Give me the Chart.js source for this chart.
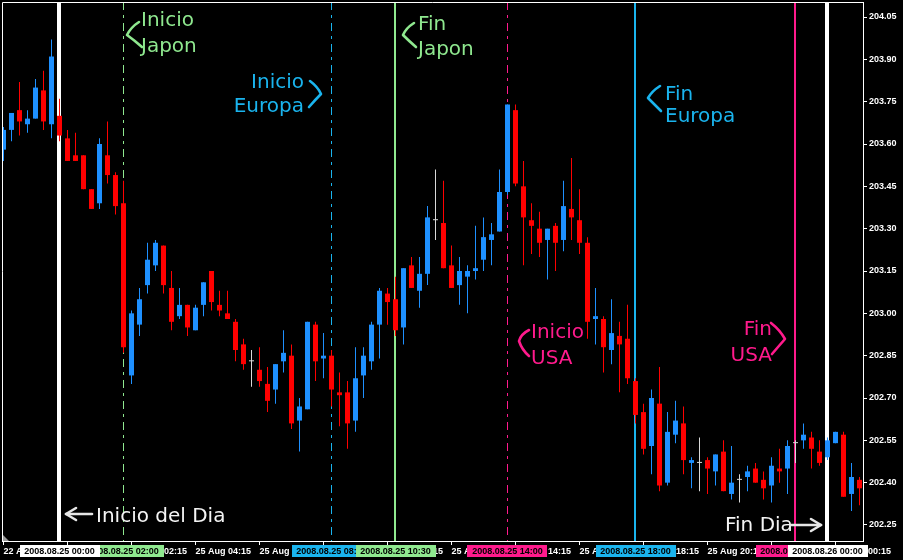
<!DOCTYPE html>
<html>
<head>
<meta charset="utf-8">
<script src="https://cdn.jsdelivr.net/npm/chart.js@4.4.0/dist/chart.umd.min.js"></script>
<style>
  html, body { margin: 0; padding: 0; background: #000; }
  canvas { display: block; }
</style>
</head>
<body>
<canvas id="c" width="903" height="560"></canvas>
<script>
// 15-minute slots counted from 2008.08.25 00:00 (slot 0)
const slots = [];
for (let k = -7; k <= 100; k++) slots.push(k);

const openP = [203.58,203.65,203.72,203.67,203.69,203.79,203.67,
  203.70,203.62,203.56,203.56,203.44,203.39,203.56,203.49,203.39,202.78,202.96,203.10,203.17,203.24,203.09,202.99,203.03,202.94,203.03,203.15,203.03,203.00,202.97,202.89,202.83,202.80,202.75,202.73,202.83,202.85,202.62,202.66,202.96,202.84,202.85,202.72,202.72,202.62,202.78,202.83,202.96,203.07,203.05,202.95,203.17,203.08,203.14,203.33,203.32,203.17,203.10,203.13,203.15,203.19,203.26,203.29,203.43,203.72,203.45,203.33,203.30,203.26,203.31,203.26,203.37,203.33,203.25,202.98,202.98,202.87,202.92,202.91,202.76,202.65,202.53,202.68,202.40,202.57,202.61,202.47,202.47,202.48,202.44,202.51,202.36,202.41,202.42,202.45,202.41,202.39,202.45,202.45,202.54,202.55,202.56,202.51,202.49,202.54,202.57,202.36,202.41];
const highP = [203.66,203.71,203.82,203.72,203.83,203.86,203.97,
  203.76,203.65,203.64,203.56,203.44,203.62,203.68,203.50,203.47,203.01,203.09,203.25,203.26,203.24,203.15,203.09,203.03,203.03,203.11,203.15,203.08,203.08,202.98,202.91,202.87,202.88,202.81,202.82,202.94,202.89,202.70,202.97,202.97,202.93,202.87,202.79,202.76,202.88,202.88,202.97,203.09,203.09,203.13,203.16,203.20,203.20,203.38,203.51,203.47,203.24,203.20,203.17,203.31,203.34,203.32,203.51,203.74,203.74,203.54,203.39,203.36,203.30,203.32,203.47,203.55,203.44,203.27,203.09,202.99,203.05,202.97,203.03,202.77,202.68,202.73,202.81,202.65,202.69,202.67,202.49,202.56,202.49,202.50,202.55,202.53,202.43,202.46,202.47,202.44,202.49,202.52,202.55,202.55,202.61,202.58,202.55,202.56,202.58,202.58,202.47,202.42];
const lowP = [203.54,203.61,203.63,203.64,203.69,203.65,203.62,
  203.61,203.54,203.54,203.44,203.37,203.37,203.46,203.35,202.86,202.75,202.92,203.07,203.15,203.07,202.94,202.98,202.92,202.94,202.99,203.01,202.99,202.98,202.83,202.80,202.74,202.74,202.65,202.68,202.79,202.59,202.51,202.66,202.76,202.77,202.67,202.60,202.52,202.58,202.70,202.80,202.84,202.96,202.92,202.89,203.09,203.02,203.10,203.26,203.16,203.09,203.03,203.00,203.12,203.15,203.17,203.29,203.42,203.45,203.17,203.21,203.20,203.12,203.15,203.22,203.26,203.21,202.91,202.89,202.79,202.82,202.72,202.75,202.61,202.50,202.43,202.37,202.39,202.54,202.43,202.38,202.37,202.36,202.39,202.37,202.34,202.33,202.37,202.40,202.34,202.33,202.40,202.36,202.47,202.52,202.45,202.46,202.48,202.54,202.35,202.30,202.32];
const closeP = [203.65,203.71,203.68,203.69,203.80,203.68,203.91,
  203.63,203.54,203.54,203.44,203.37,203.60,203.49,203.38,202.88,203.00,203.05,203.19,203.25,203.10,202.97,203.03,202.95,203.02,203.11,203.04,203.01,202.98,202.87,202.82,202.83,202.76,202.69,202.82,202.86,202.61,202.67,202.97,202.83,202.85,202.73,202.71,202.61,202.77,202.85,202.96,203.08,203.04,202.94,203.16,203.09,203.14,203.34,203.33,203.16,203.09,203.15,203.15,203.16,203.27,203.28,203.43,203.74,203.46,203.34,203.31,203.25,203.30,203.25,203.38,203.34,203.25,202.97,202.99,202.88,202.93,202.89,202.77,202.64,202.52,202.70,202.39,202.58,202.62,202.48,202.48,202.47,202.45,202.50,202.37,202.40,202.41,202.44,202.40,202.38,202.46,202.44,202.53,202.54,202.57,202.52,202.47,202.55,202.58,202.35,202.42,202.38];

const yTicks = [202.25,202.40,202.55,202.70,202.85,203.00,203.15,203.30,203.45,203.60,203.75,203.90,204.05];
const xTickSlots = [-7,1,9,17,25,33,41,49,57,65,73,81,89,97];
const xTickLabels = ['22 Aug 22:15','25 Aug 00:15','25 Aug 02:15','25 Aug 04:15','25 Aug 06:15','25 Aug 08:15','25 Aug 10:15',
  '25 Aug 12:15','25 Aug 14:15','25 Aug 16:15','25 Aug 18:15','25 Aug 20:15','25 Aug 22:15','26 Aug 00:15'];

// session marker lines
const sessionSlots = [0, 8, 34, 42, 56, 72, 92, 96];
const sessionTexts = ['2008.08.25 00:00','2008.08.25 02:00','2008.08.25 08:30','2008.08.25 10:30',
  '2008.08.25 14:00','2008.08.25 18:00','2008.08.25 23:00','2008.08.26 00:00'];

const WHITE = '#ffffff', GREEN = '#8fe88f', CYAN = '#1ab4ee', PINK = '#ff1a8c';
const lineStyle = [
  {c: WHITE, w: 4, d: []}, {c: GREEN, w: 1, d: [8,5,3,5]}, {c: CYAN, w: 1, d: [8,5,3,5]}, {c: GREEN, w: 2, d: []},
  {c: PINK, w: 1, d: [8,5,3,5]}, {c: CYAN, w: 2, d: []}, {c: PINK, w: 2, d: []}, {c: WHITE, w: 4, d: []}
];
const boxOrder = [1, 0, 2, 3, 4, 5, 6, 7];

const UP = '#1e90ff', DOWN = '#ff0000', DOJI = '#d8d8d8';
const candleColor = i => closeP[i] > openP[i] ? UP : (closeP[i] < openP[i] ? DOWN : DOJI);
const colors = slots.map((k, i) => candleColor(i));

const AX_FONT = "bold 9px 'Liberation Sans'";
const NOTE_FONT = "20px 'DejaVu Sans'";

function brace(ctx, color, pts) {
  ctx.strokeStyle = color; ctx.lineWidth = 2.6; ctx.lineCap = 'round'; ctx.lineJoin = 'round';
  ctx.beginPath();
  ctx.moveTo(pts[0][0], pts[0][1]);
  ctx.quadraticCurveTo(pts[1][0], pts[1][1], pts[2][0], pts[2][1]);
  ctx.quadraticCurveTo(pts[3][0], pts[3][1], pts[4][0], pts[4][1]);
  ctx.stroke();
}
function arrow(ctx, x1, x2, y, color) {
  const dir = Math.sign(x2 - x1);
  ctx.strokeStyle = color; ctx.lineWidth = 2.6; ctx.lineCap = 'round'; ctx.lineJoin = 'round';
  ctx.beginPath(); ctx.moveTo(x1, y); ctx.lineTo(x2, y); ctx.stroke();
  ctx.beginPath(); ctx.moveTo(x2 - dir * 10, y - 6); ctx.lineTo(x2, y); ctx.lineTo(x2 - dir * 10, y + 6); ctx.stroke();
}

const sessionPlugin = {
  id: 'sessions',
  beforeDatasetsDraw(chart) {
    const {ctx, chartArea: a, scales: {x}} = chart;
    ctx.save();
    ctx.beginPath(); ctx.rect(a.left, a.top, a.right - a.left, a.bottom - a.top); ctx.clip();
    sessionSlots.forEach((s, i) => {
      const st = lineStyle[i];
      let px = x.getPixelForValue(s);
      if (st.w % 2 === 0) px = Math.floor(px);
      ctx.strokeStyle = st.c; ctx.lineWidth = st.w; ctx.setLineDash(st.d);
      ctx.beginPath(); ctx.moveTo(px, a.top); ctx.lineTo(px, a.bottom); ctx.stroke();
    });
    ctx.restore();
  },
  afterDatasetsDraw(chart) {
    const {ctx, chartArea: a} = chart;
    ctx.save();
    // frame (top / left)
    ctx.strokeStyle = '#fff'; ctx.lineWidth = 1;
    ctx.beginPath(); ctx.moveTo(a.left + 0.5, a.bottom); ctx.lineTo(a.left + 0.5, a.top + 0.5); ctx.lineTo(a.right, a.top + 0.5); ctx.stroke();
    // chart shift marker
    ctx.fillStyle = '#9a9a9a';
    ctx.beginPath(); ctx.moveTo(a.left + 1, a.bottom - 6); ctx.lineTo(a.left + 7, a.bottom); ctx.lineTo(a.left + 1, a.bottom); ctx.closePath(); ctx.fill();

    ctx.font = NOTE_FONT; ctx.textBaseline = 'alphabetic';
    // Japan start
    ctx.fillStyle = GREEN; ctx.textAlign = 'left';
    ctx.fillText('Inicio', 141, 26); ctx.fillText('Japon', 141, 52);
    brace(ctx, GREEN, [[139,22],[131,27],[127,35],[134,40],[142,47]]);
    // Europe start
    ctx.fillStyle = CYAN; ctx.textAlign = 'right';
    ctx.fillText('Inicio', 304, 88); ctx.fillText('Europa', 304, 112);
    brace(ctx, CYAN, [[310,81],[318,87],[321,94],[315,100],[309,107]]);
    // Japan end
    ctx.fillStyle = GREEN; ctx.textAlign = 'left';
    ctx.fillText('Fin', 418, 30); ctx.fillText('Japon', 418, 55);
    brace(ctx, GREEN, [[414,23],[406,28],[403,35],[409,41],[416,47]]);
    // Europe end
    ctx.fillStyle = CYAN;
    ctx.fillText('Fin', 665, 100); ctx.fillText('Europa', 665, 122);
    brace(ctx, CYAN, [[660,86],[652,91],[648,98],[654,104],[661,111]]);
    // USA start
    ctx.fillStyle = PINK;
    ctx.fillText('Inicio', 531, 338); ctx.fillText('USA', 531, 364);
    brace(ctx, PINK, [[529,330],[521,334],[519,341],[522,350],[529,356]]);
    // USA end
    ctx.textAlign = 'right';
    ctx.fillText('Fin', 772, 335); ctx.fillText('USA', 772, 361);
    brace(ctx, PINK, [[771,323],[780,330],[785,339],[778,347],[772,354]]);
    // day start / end
    ctx.fillStyle = '#f4f4f4'; ctx.textAlign = 'left';
    ctx.fillText('Inicio del Dia', 96, 522);
    arrow(ctx, 92, 66, 514, '#e6e6e6');
    ctx.fillText('Fin Dia', 725, 531);
    arrow(ctx, 791, 821, 525, '#e6e6e6');
    ctx.restore();
  },
  afterDraw(chart) {
    const {ctx, chartArea: a, scales: {x}} = chart;
    ctx.save();
    ctx.font = AX_FONT; ctx.textAlign = 'center'; ctx.textBaseline = 'middle';
    boxOrder.forEach(i => {
      const px = x.getPixelForValue(sessionSlots[i]);
      const w = Math.round(ctx.measureText(sessionTexts[i]).width + 9);
      ctx.fillStyle = lineStyle[i].c;
      ctx.fillRect(Math.round(px - w / 2), a.bottom + 4, w, 12);
      ctx.fillStyle = '#000';
      ctx.fillText(sessionTexts[i], px, a.bottom + 10.5);
    });
    ctx.restore();
  }
};

new Chart(document.getElementById('c'), {
  type: 'bar',
  data: {
    datasets: [
      { label: 'wick', data: slots.map((k, i) => ({x: k, y: [lowP[i], highP[i]]})),
        backgroundColor: colors, barThickness: 1, grouped: false, inflateAmount: 0, borderWidth: 0, order: 2 },
      { label: 'body', data: slots.map((k, i) => ({x: k, y: [openP[i], closeP[i]]})),
        backgroundColor: colors, barThickness: 5, minBarLength: 1, grouped: false, inflateAmount: 0, borderWidth: 0, order: 1 }
    ]
  },
  options: {
    responsive: false, animation: false, devicePixelRatio: 1,
    layout: {padding: {left: 2, top: 2, right: 0, bottom: 0}},
    plugins: {legend: {display: false}, tooltip: {enabled: false}},
    scales: {
      x: {
        type: 'linear', min: -7.1875, max: 100.4375, offset: false, bounds: 'data', position: 'bottom',
        grid: {display: true, drawOnChartArea: false, drawTicks: true, tickLength: 4, color: '#fff', offset: false},
        border: {display: true, color: '#fff', width: 1},
        ticks: {autoSkip: false, maxRotation: 0, minRotation: 0, align: 'start', padding: 1, color: '#fff',
                font: {family: 'Liberation Sans', size: 9, weight: 'bold'}, callback: (v, idx) => xTickLabels[idx]},
        afterBuildTicks: s => { s.ticks = xTickSlots.map(v => ({value: v})); },
        afterFit: s => { s.height = 19; s.paddingLeft = 0; s.paddingRight = 0; }
      },
      y: {
        type: 'linear', min: 202.1933, max: 204.1032, bounds: 'data', position: 'right',
        grid: {display: true, drawOnChartArea: false, drawTicks: true, tickLength: 4, color: '#fff'},
        border: {display: true, color: '#fff', width: 1},
        ticks: {padding: 2, color: '#fff', font: {family: 'Liberation Sans', size: 9, weight: 'bold'}, callback: v => Number(v).toFixed(2)},
        afterBuildTicks: s => { s.ticks = yTicks.map(v => ({value: v})); },
        afterFit: s => { s.width = 40; s.paddingTop = 0; s.paddingBottom = 0; }
      }
    }
  },
  plugins: [sessionPlugin]
});
</script>
</body>
</html>
